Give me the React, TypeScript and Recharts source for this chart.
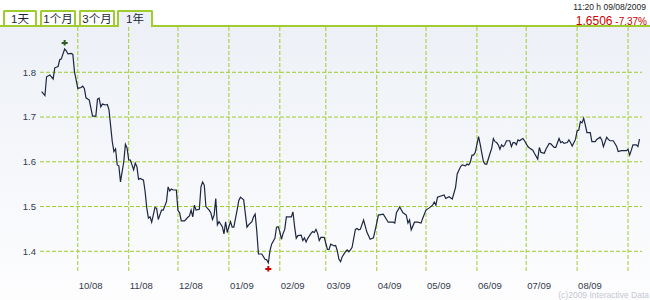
import { LineChart, Line, XAxis, YAxis, CartesianGrid, ReferenceDot } from 'recharts'

// day offsets counted from 2008-09-08
const days = [
  1, 3, 4, 6, 8, 9, 11, 12, 13, 15,
  16, 17, 19, 20, 21, 22, 23, 25, 26, 27,
  28, 30, 32, 34, 35, 36, 37, 38, 40, 41,
  42, 44, 45, 46, 47, 48, 49, 51, 52, 53,
  54, 55, 56, 57, 58, 59, 60, 61, 63, 64,
  65, 66, 67, 68, 70, 71, 72, 74, 75, 77,
  78, 79, 80, 81, 83, 84, 85, 86, 88, 90,
  91, 92, 93, 94, 95, 97, 98, 99, 100, 101,
  102, 103, 104, 105, 106, 107, 108, 109, 111, 112,
  113, 114, 115, 116, 117, 118, 120, 121, 122, 124,
  126, 127, 129, 130, 131, 132, 133, 135, 137, 138,
  139, 140, 141, 143, 144, 145, 146, 147, 148, 149,
  150, 152, 153, 154, 155, 156, 157, 159, 160, 161,
  162, 163, 165, 166, 167, 168, 169, 170, 171, 172,
  173, 174, 175, 176, 177, 178, 179, 180, 181, 182,
  183, 184, 186, 187, 188, 189, 190, 192, 193, 194,
  195, 197, 199, 201, 203, 205, 206, 209, 212, 215,
  216, 217, 219, 221, 223, 224, 225, 226, 228, 230,
  232, 233, 235, 237, 239, 240, 241, 242, 246, 247,
  249, 251, 253, 254, 256, 257, 259, 260, 261, 262,
  263, 264, 265, 267, 268, 269, 270, 271, 272, 274,
  275, 276, 277, 278, 279, 280, 281, 282, 283, 284,
  286, 287, 288, 289, 290, 291, 292, 293, 294, 295,
  297, 298, 300, 301, 303, 304, 305, 307, 308, 310,
  311, 313, 314, 316, 317, 318, 319, 321, 322, 323,
  324, 326, 327, 328, 329, 330, 331, 332, 333, 335,
  336, 338, 339, 341, 342, 343, 345, 346, 347, 349,
  351, 352, 354, 355, 357, 358, 359, 360, 361, 363,
  364, 365,
]

const rates = [
  1.757, 1.748, 1.790, 1.794, 1.785, 1.810, 1.813, 1.828, 1.830, 1.852,
  1.848, 1.841, 1.842, 1.840, 1.801, 1.783, 1.764, 1.766, 1.769, 1.764,
  1.743, 1.738, 1.702, 1.702, 1.740, 1.742, 1.723, 1.729, 1.727, 1.728,
  1.716, 1.645, 1.623, 1.629, 1.593, 1.591, 1.555, 1.600, 1.639, 1.631,
  1.604, 1.604, 1.593, 1.582, 1.597, 1.589, 1.561, 1.563, 1.559, 1.533,
  1.497, 1.474, 1.477, 1.465, 1.498, 1.496, 1.471, 1.492, 1.492, 1.511,
  1.544, 1.535, 1.539, 1.537, 1.537, 1.491, 1.486, 1.468, 1.468, 1.476,
  1.479, 1.492, 1.477, 1.503, 1.492, 1.494, 1.544, 1.555, 1.548, 1.500,
  1.496, 1.492, 1.486, 1.471, 1.481, 1.518, 1.459, 1.466, 1.455, 1.439,
  1.466, 1.442, 1.455, 1.466, 1.454, 1.454, 1.492, 1.513, 1.521, 1.515,
  1.454, 1.459, 1.466, 1.477, 1.483, 1.444, 1.394, 1.394, 1.382, 1.381,
  1.374, 1.401, 1.416, 1.429, 1.454, 1.455, 1.444, 1.427, 1.440, 1.449,
  1.477, 1.477, 1.477, 1.488, 1.455, 1.429, 1.435, 1.436, 1.424, 1.430,
  1.421, 1.429, 1.440, 1.444, 1.442, 1.449, 1.440, 1.424, 1.431, 1.431,
  1.431, 1.418, 1.404, 1.404, 1.416, 1.414, 1.412, 1.413, 1.401, 1.382,
  1.377, 1.388, 1.399, 1.403, 1.399, 1.403, 1.409, 1.449, 1.451, 1.448,
  1.449, 1.470, 1.443, 1.427, 1.430, 1.463, 1.481, 1.483, 1.465, 1.465,
  1.463, 1.486, 1.499, 1.486, 1.481, 1.463, 1.470, 1.448, 1.465, 1.465,
  1.463, 1.474, 1.492, 1.497, 1.503, 1.510, 1.503, 1.521, 1.526, 1.518,
  1.522, 1.517, 1.543, 1.573, 1.589, 1.593, 1.591, 1.595, 1.593, 1.599,
  1.615, 1.615, 1.621, 1.656, 1.639, 1.619, 1.600, 1.595, 1.595, 1.619,
  1.630, 1.652, 1.645, 1.643, 1.638, 1.628, 1.638, 1.634, 1.638, 1.647,
  1.647, 1.634, 1.643, 1.643, 1.638, 1.649, 1.647, 1.650, 1.652, 1.647,
  1.634, 1.631, 1.626, 1.619, 1.606, 1.632, 1.621, 1.619, 1.628, 1.641,
  1.640, 1.632, 1.632, 1.652, 1.643, 1.645, 1.641, 1.643, 1.649, 1.643,
  1.635, 1.650, 1.669, 1.671, 1.690, 1.687, 1.697, 1.682, 1.665, 1.665,
  1.645, 1.645, 1.650, 1.655, 1.649, 1.634, 1.655, 1.650, 1.647, 1.647,
  1.635, 1.623, 1.625, 1.625, 1.625, 1.628, 1.615, 1.626, 1.638, 1.638,
  1.634, 1.6506,
]

// first day of each month, same day offsets
const monthTicks = [23, 54, 84, 115, 146, 174, 205, 235, 266, 296, 327, 358]
const monthLabels = ['10/08', '11/08', '12/08', '01/09', '02/09', '03/09', '04/09', '05/09', '06/09', '07/09', '08/09', '']
const rateTicks = [1.4, 1.5, 1.6, 1.7, 1.8]

const tabs = ['1天', '1个月', '3个月', '1年']
const activeTab = 3
const quoteTime = '11:20 h 09/08/2009'
const lastPrice = '1.6506'
const change = '-7.37%'

const GREEN = '#9fcd2f'
const TEXT = '#333a4a'
const FONT = '"Liberation Sans", Arial, "Noto Sans CJK SC", sans-serif'

const data = days.map((d, i) => ({ day: d, rate: rates[i] }))

const maxIdx = rates.indexOf(Math.max(...rates))
const minIdx = rates.indexOf(Math.min(...rates))

const MonthTick = (props: any) => {
  const { x, y, payload } = props
  const i = monthTicks.indexOf(payload.value)
  return (
    <text x={x + 1} y={y + 16} fontSize={9.5} fill={TEXT} fontFamily={FONT} textAnchor="start">
      {monthLabels[i]}
    </text>
  )
}

// small plus-shaped marker, shifted above/below the extreme point
const marker = (color: string, dy: number) => (props: any) => {
  const { cx, cy } = props
  if (cx == null || cy == null) return <g />
  const y = cy + dy
  return (
    <path
      d={`M${cx - 1},${y - 3} L${cx + 1},${y - 3} L${cx + 1},${y - 1} L${cx + 3},${y - 1} L${cx + 3},${y + 1} L${cx + 1},${y + 1} L${cx + 1},${y + 2.5} L${cx - 1},${y + 2.5} L${cx - 1},${y + 1} L${cx - 3},${y + 1} L${cx - 3},${y - 1} L${cx - 1},${y - 1} Z`}
      fill={color}
    />
  )
}

export default function App() {
  return (
    <div style={{ position: 'relative', width: 650, height: 300, overflow: 'hidden', background: '#fff', fontFamily: FONT }}>
      <style>{'body{margin:0}'}</style>

      {/* plot background */}
      <div style={{ position: 'absolute', left: 0, top: 27, width: 650, height: 273, background: 'linear-gradient(#edf1f7, #fdfdfe)' }} />

      <div style={{ position: 'absolute', left: 0, top: 25, width: 650, height: 2, background: GREEN }} />

      {tabs.map((t, i) => {
        const lefts = [3, 40, 79, 117]
        const widths = [34, 36, 36, 36]
        const active = i === activeTab
        return (
          <div
            key={t}
            style={{
              position: 'absolute', left: lefts[i], top: 10, width: widths[i], height: active ? 17 : 15,
              boxSizing: 'border-box', border: `2px solid ${GREEN}`, borderBottom: active ? 'none' : `0`,
              borderRadius: '2px 2px 0 0', background: active ? '#edf1f7' : '#fff',
              fontSize: 11.5, color: '#1e2636', textAlign: 'center', lineHeight: '14px',
            }}
          >
            {t}
          </div>
        )
      })}

      <div style={{ position: 'absolute', right: 4, top: 2, fontSize: 8.5, color: '#222', whiteSpace: 'nowrap' }}>{quoteTime}</div>
      <div style={{ position: 'absolute', right: 3, top: 11, color: '#cc0000', whiteSpace: 'nowrap' }}>
        <span style={{ fontSize: 12 }}>{lastPrice}</span>
        <span style={{ fontSize: 10 }}> {change}</span>
      </div>

      <div style={{ position: 'absolute', left: 0, top: 27 }}>
        <LineChart width={650} height={273} data={data} margin={{ top: 0, right: 8, bottom: 0, left: 0 }}>
          <CartesianGrid
            stroke={GREEN}
            strokeDasharray="4 2"
            horizontalValues={rateTicks}
            verticalValues={monthTicks}
          />
          <XAxis
            dataKey="day"
            type="number"
            domain={[0, 366.5]}
            ticks={monthTicks}
            tick={<MonthTick />}
            tickLine={false}
            axisLine={false}
            tickSize={0}
            tickMargin={0}
            height={27}
            interval={0}
            allowDataOverflow
          />
          <YAxis
            type="number"
            domain={[1.3515, 1.9012]}
            ticks={rateTicks}
            tickFormatter={(v: number) => v.toFixed(1)}
            tick={{ fontSize: 9.5, fill: TEXT, fontFamily: FONT }}
            tickLine={false}
            axisLine={false}
            tickSize={2}
            tickMargin={2}
            width={40}
            interval={0}
            allowDataOverflow
          />
          <Line
            dataKey="rate"
            type="linear"
            stroke="#1c2640"
            strokeWidth={1.2}
            dot={false}
            activeDot={false}
            isAnimationActive={false}
          />
          <ReferenceDot x={days[maxIdx]} y={rates[maxIdx]} shape={marker('#2f5a22', -6)} />
          <ReferenceDot x={days[minIdx]} y={rates[minIdx]} shape={marker('#cc0000', 6)} />
        </LineChart>
      </div>

      <div style={{ position: 'absolute', right: 1, bottom: 0, fontSize: 8.5, color: '#c4c8d0', whiteSpace: 'nowrap' }}>(c)2009 Interactive Data</div>
    </div>
  )
}
